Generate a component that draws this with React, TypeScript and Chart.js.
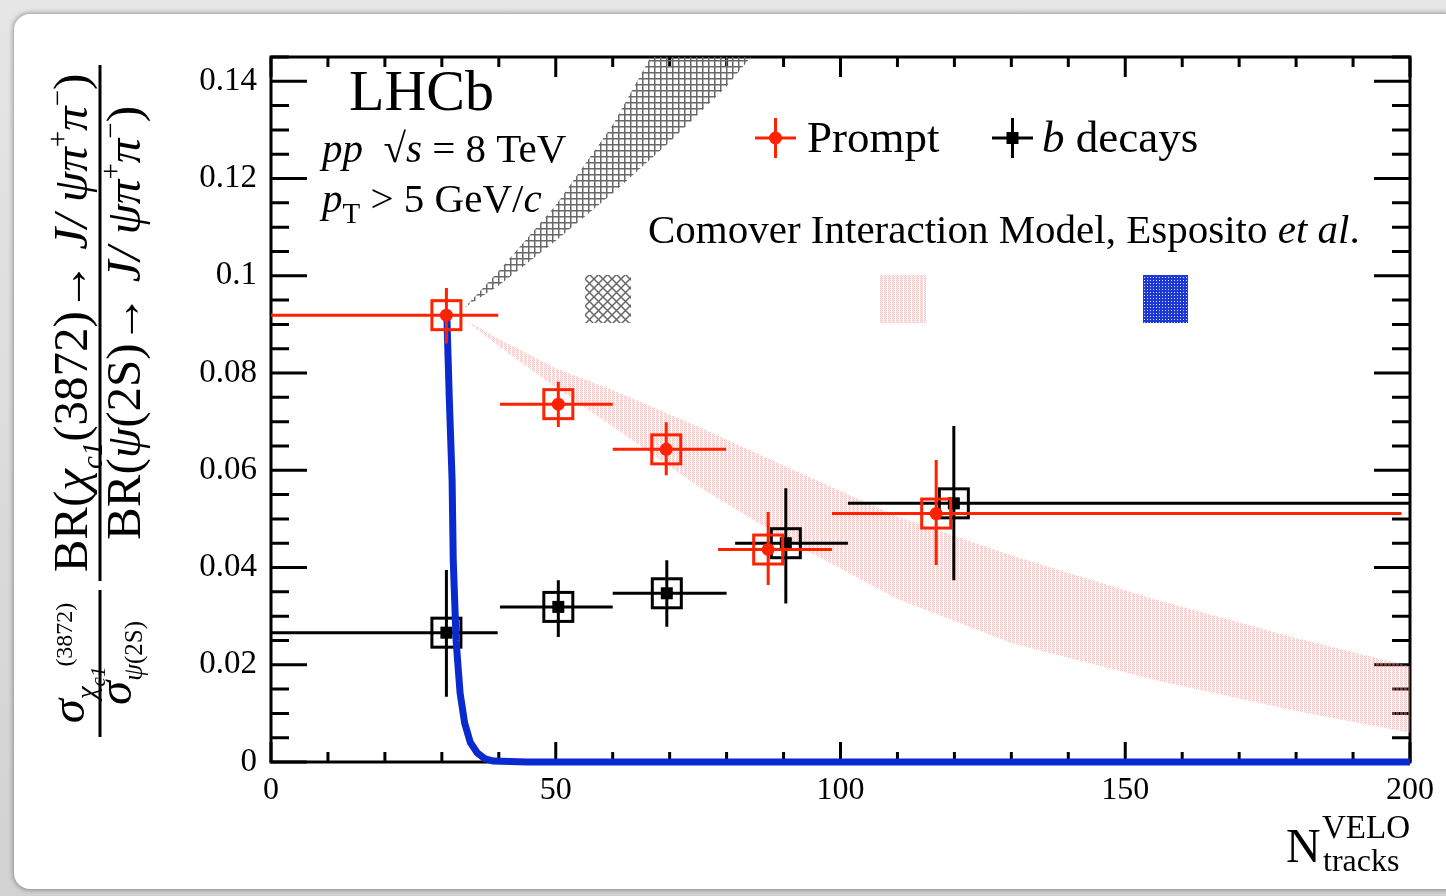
import React, { useEffect, useRef } from 'react';
import { Chart, registerables } from 'chart.js';

Chart.register(...registerables);

const W = 1446;
const H = 896;
const SERIF = '"Liberation Serif", "DejaVu Serif", serif';

// ---- axes ----
const xMin = 0;
const xMax = 200;
const yMin = 0;
const yMax = 0.145;
const xTickValues = [0, 50, 100, 150, 200];
const xTickLabels = ['0', '50', '100', '150', '200'];
const yTickValues = [0, 0.02, 0.04, 0.06, 0.08, 0.1, 0.12, 0.14];
const yTickLabels = ['0', '0.02', '0.04', '0.06', '0.08', '0.1', '0.12', '0.14'];

// ---- Prompt (red) ----
const promptX = [30.8, 50.45, 69.4, 87.3, 116.8];
const promptY = [0.0919, 0.0736, 0.0643, 0.0437, 0.0511];
const promptXLow = [0, 40.2, 60, 78.5, 98.5];
const promptXHigh = [39.9, 60, 79.9, 98.5, 198.5];
const promptYLow = [0.0861, 0.0689, 0.059, 0.0364, 0.0405];
const promptYHigh = [0.0975, 0.0782, 0.0699, 0.0514, 0.0621];

// ---- b decays (black) ----
const bX = [30.8, 50.45, 69.5, 90.4, 119.9];
const bY = [0.0266, 0.0319, 0.0347, 0.045, 0.0532];
const bXLow = [0, 40.2, 60, 81.5, 101.3];
const bXHigh = [39.8, 60, 80, 101.3, 200];
const bYLow = [0.0134, 0.0257, 0.0278, 0.0326, 0.0374];
const bYHigh = [0.0395, 0.0374, 0.0415, 0.0563, 0.0691];

// ---- Comover model bands ----
const pinkX = [34, 40, 50, 60, 75, 90, 110, 130, 155, 180, 200];
const pinkUpper = [0.091, 0.087, 0.081, 0.0765, 0.069, 0.061, 0.0505, 0.0425, 0.0335, 0.0255, 0.0197];
const pinkLower = [0.091, 0.0855, 0.077, 0.069, 0.0567, 0.046, 0.0335, 0.0245, 0.0169, 0.0105, 0.006];

const grayX = [34, 40, 50, 60, 70, 80, 90];
const grayUpper = [0.0935, 0.101, 0.1145, 0.131, 0.152, 0.176, 0.2];
const grayLower = [0.0935, 0.098, 0.1072, 0.117, 0.1275, 0.139, 0.153];

const blueX = [30.9, 31.3, 31.8, 32.0, 32.5, 33.2, 34.0, 35.0, 36.2, 37.5, 39, 45, 60, 100, 150, 200];
const blueY = [0.091, 0.075, 0.058, 0.0415, 0.025, 0.0142, 0.008, 0.004, 0.0019, 0.0007, 0.0002, 0, 0, 0, 0, 0];

const RED = '#ff2200';
const BLUE = '#0a2ad0';

function makePattern(w: number, h: number, draw: (g: CanvasRenderingContext2D) => void): CanvasPattern {
  const c = document.createElement('canvas');
  c.width = w;
  c.height = h;
  const g = c.getContext('2d') as CanvasRenderingContext2D;
  draw(g);
  return g.createPattern(c, 'repeat') as CanvasPattern;
}

type Seg = { t: string; it?: boolean; s?: number; dv?: number };

function segFont(seg: Seg, size: number) {
  return `${seg.it ? 'italic ' : ''}${Math.round(size * (seg.s ?? 1))}px ${SERIF}`;
}

function richWidth(ctx: CanvasRenderingContext2D, segs: Seg[], size: number) {
  let w = 0;
  for (const seg of segs) {
    ctx.font = segFont(seg, size);
    w += ctx.measureText(seg.t).width;
  }
  return w;
}

function drawRich(ctx: CanvasRenderingContext2D, segs: Seg[], u: number, v: number, size: number) {
  let x = u;
  for (const seg of segs) {
    ctx.font = segFont(seg, size);
    ctx.fillText(seg.t, x, v + (seg.dv ?? 0) * size);
    x += ctx.measureText(seg.t).width;
  }
  return x;
}

const frameTicksPlugin = {
  id: 'frameTicks',
  beforeDatasetsDraw(chart: any) {
    const { ctx, chartArea: a, scales } = chart;
    const xs = scales.x;
    const ys = scales.y;
    ctx.save();
    ctx.strokeStyle = '#000';
    ctx.lineWidth = 3;
    ctx.beginPath();
    for (let i = 0; i <= 20; i++) {
      const v = i * 10;
      const px = xs.getPixelForValue(v);
      const len = i % 5 === 0 ? 20 : 10;
      ctx.moveTo(px, a.bottom);
      ctx.lineTo(px, a.bottom - len);
      ctx.moveTo(px, a.top);
      ctx.lineTo(px, a.top + len);
    }
    for (let i = 0; i <= 29; i++) {
      const v = i * 0.005;
      const py = ys.getPixelForValue(v);
      const len = i % 4 === 0 ? 36 : 18;
      ctx.moveTo(a.left, py);
      ctx.lineTo(a.left + len, py);
      ctx.moveTo(a.right, py);
      ctx.lineTo(a.right - len, py);
    }
    ctx.stroke();
    ctx.strokeRect(a.left, a.top, a.right - a.left, a.bottom - a.top);
    ctx.restore();
  },
};

function drawPoints(chart: any, color: string, xs: number[], ys: number[], xl: number[], xh: number[], yl: number[], yh: number[], round: boolean) {
  const { ctx } = chart;
  const sx = chart.scales.x;
  const sy = chart.scales.y;
  ctx.save();
  ctx.strokeStyle = color;
  ctx.fillStyle = color;
  ctx.lineWidth = 3;
  for (let i = 0; i < xs.length; i++) {
    const cx = sx.getPixelForValue(xs[i]);
    const cy = sy.getPixelForValue(ys[i]);
    ctx.beginPath();
    ctx.moveTo(sx.getPixelForValue(xl[i]), cy);
    ctx.lineTo(sx.getPixelForValue(xh[i]), cy);
    ctx.moveTo(cx, sy.getPixelForValue(yl[i]));
    ctx.lineTo(cx, sy.getPixelForValue(yh[i]));
    ctx.stroke();
    ctx.strokeRect(cx - 14.5, cy - 14.5, 29, 29);
    if (round) {
      ctx.beginPath();
      ctx.arc(cx, cy, 6.5, 0, Math.PI * 2);
      ctx.fill();
    } else {
      ctx.fillRect(cx - 6, cy - 6, 12, 12);
    }
  }
  ctx.restore();
}

const pointsPlugin = {
  id: 'errPoints',
  afterDatasetDraw(chart: any, args: any) {
    const label = chart.data.datasets[args.index].label;
    if (label === 'b decays') {
      drawPoints(chart, '#000', bX, bY, bXLow, bXHigh, bYLow, bYHigh, false);
    } else if (label === 'Prompt') {
      drawPoints(chart, RED, promptX, promptY, promptXLow, promptXHigh, promptYLow, promptYHigh, true);
    }
  },
};

function makeTextPlugin(patterns: { gray: CanvasPattern; pink: CanvasPattern; blue: CanvasPattern }) {
  return {
    id: 'texts',
    afterDraw(chart: any) {
      const { ctx } = chart;
      ctx.save();
      ctx.fillStyle = '#000';
      ctx.textBaseline = 'alphabetic';
      ctx.textAlign = 'left';

      // LHCb label
      drawRich(ctx, [{ t: 'LHCb' }], 349, 110, 58);
      drawRich(ctx, [{ t: 'pp', it: true }, { t: '  \u221A' }, { t: 's', it: true }, { t: ' = 8 TeV' }], 322, 162, 41);
      drawRich(ctx, [{ t: 'p', it: true }, { t: 'T', s: 0.7, dv: 0.28 }, { t: ' > 5 GeV/' }, { t: 'c', it: true }], 322, 212, 41);

      // legend
      const ly = 138;
      ctx.strokeStyle = RED;
      ctx.fillStyle = RED;
      ctx.lineWidth = 3;
      ctx.beginPath();
      ctx.moveTo(755, ly); ctx.lineTo(796, ly);
      ctx.moveTo(775.5, 118); ctx.lineTo(775.5, 158);
      ctx.stroke();
      ctx.beginPath();
      ctx.arc(775.5, ly, 6.5, 0, Math.PI * 2);
      ctx.fill();
      ctx.strokeStyle = '#000';
      ctx.fillStyle = '#000';
      ctx.beginPath();
      ctx.moveTo(992, ly); ctx.lineTo(1033, ly);
      ctx.moveTo(1012.5, 118); ctx.lineTo(1012.5, 158);
      ctx.stroke();
      ctx.fillRect(1006.5, ly - 6, 12, 12);
      drawRich(ctx, [{ t: 'Prompt' }], 807, 152, 45);
      drawRich(ctx, [{ t: 'b', it: true }, { t: ' decays' }], 1042, 152, 45);

      drawRich(ctx, [{ t: 'Comover Interaction Model, Esposito ' }, { t: 'et al', it: true }, { t: '.' }], 648, 243, 41);

      // model legend boxes
      ctx.fillStyle = patterns.gray;
      ctx.fillRect(585, 275, 46, 48);
      ctx.fillStyle = patterns.pink;
      ctx.fillRect(880, 275, 46, 48);
      ctx.fillStyle = patterns.blue;
      ctx.fillRect(1143, 275, 45, 48);

      // x-axis title
      ctx.fillStyle = '#000';
      drawRich(ctx, [{ t: 'N' }], 1286, 862, 48);
      drawRich(ctx, [{ t: 'VELO' }], 1322, 838, 33);
      drawRich(ctx, [{ t: 'tracks' }], 1323, 871, 32);

      // y-axis title (rotated)
      ctx.save();
      ctx.rotate(-Math.PI / 2);
      const fs = 49;
      // right fraction
      const numR: Seg[] = [
        { t: 'BR(' },
        { t: '\u03C7', it: true },
        { t: 'c1', it: true, s: 0.6, dv: 0.3 },
        { t: '(3872)\u2192 ' },
        { t: 'J/ \u03C8\u03C0', it: true },
        { t: '+', s: 0.6, dv: -0.4 },
        { t: '\u03C0', it: true },
        { t: '\u2212', s: 0.6, dv: -0.4 },
        { t: ')' },
      ];
      const denR: Seg[] = [
        { t: 'BR(' },
        { t: '\u03C8', it: true },
        { t: '(2S)\u2192 ' },
        { t: 'J/ \u03C8\u03C0', it: true },
        { t: '+', s: 0.6, dv: -0.4 },
        { t: '\u03C0', it: true },
        { t: '\u2212', s: 0.6, dv: -0.4 },
        { t: ')' },
      ];
      const cR = 323; // screen y center
      const wn = richWidth(ctx, numR, fs);
      const wd = richWidth(ctx, denR, fs);
      drawRich(ctx, numR, -cR - wn / 2, 87, fs);
      drawRich(ctx, denR, -cR - wd / 2, 140, fs);
      ctx.fillRect(-581, 98.5, 516, 3);

      const numL: Seg[] = [
        { t: '\u03C3', it: true },
        { t: '\u03C7', it: true, s: 0.6, dv: 0.25 },
        { t: 'c1', it: true, s: 0.42, dv: 0.42 },
        { t: '(3872)', s: 0.48, dv: -0.25 },
      ];
      const denL: Seg[] = [
        { t: '\u03C3', it: true },
        { t: '\u03C8', it: true, s: 0.55, dv: 0.22 },
        { t: '(2S)', s: 0.5, dv: 0.22 },
      ];
      const cL = 663;
      const wnl = richWidth(ctx, numL, fs);
      const wdl = richWidth(ctx, denL, fs);
      drawRich(ctx, numL, -cL - wnl / 2, 84, fs);
      drawRich(ctx, denL, -cL - wdl / 2, 131, fs);
      ctx.fillRect(-737, 98.5, 147, 3);
      ctx.restore();

      ctx.restore();
    },
  };
}

export default function App() {
  const ref = useRef<HTMLCanvasElement | null>(null);

  useEffect(() => {
    document.body.style.margin = '0';
    const canvas = ref.current;
    if (!canvas) return;

    const pink = makePattern(4, 2, (g) => {
      for (let x = 0; x < 4; x++) {
        for (let y = 0; y < 2; y++) {
          if (x === 3) continue;
          g.fillStyle = (x + y) % 2 === 0 ? 'rgba(240,135,135,0.45)' : 'rgba(247,190,190,0.3)';
          g.fillRect(x, y, 1, 1);
        }
      }
    });
    const gray = makePattern(6, 6, (g) => {
      g.fillStyle = '#686868';
      g.fillRect(0, 0, 6, 1.5);
      g.fillRect(0, 0, 1.5, 6);
    });
    const grayDiag = makePattern(9, 9, (g) => {
      g.strokeStyle = '#666';
      g.lineWidth = 1.5;
      g.beginPath();
      g.moveTo(-1, -1); g.lineTo(10, 10);
      g.moveTo(10, -1); g.lineTo(-1, 10);
      g.stroke();
    });
    const blue = makePattern(3, 3, (g) => {
      g.fillStyle = '#1c38d6';
      g.fillRect(0, 0, 3, 3);
      g.fillStyle = 'rgba(255,255,255,0.85)';
      g.fillRect(1, 1, 1, 1);
    });

    const pts = (xs: number[], ys: number[]) => xs.map((x, i) => ({ x, y: ys[i] }));

    const chart = new Chart(canvas, {
      type: 'line',
      data: {
        datasets: [
          {
            label: 'pinkUpper',
            data: pts(pinkX, pinkUpper),
            borderWidth: 0,
            borderColor: 'rgba(0,0,0,0)',
            pointRadius: 0,
            fill: '+1',
            backgroundColor: pink,
            order: 10,
          },
          {
            label: 'pinkLower',
            data: pts(pinkX, pinkLower),
            borderWidth: 0,
            borderColor: 'rgba(0,0,0,0)',
            pointRadius: 0,
            fill: false,
            order: 10,
          },
          {
            label: 'grayUpper',
            data: pts(grayX, grayUpper),
            borderWidth: 0,
            borderColor: 'rgba(0,0,0,0)',
            pointRadius: 0,
            fill: '+1',
            backgroundColor: gray,
            order: 9,
          },
          {
            label: 'grayLower',
            data: pts(grayX, grayLower),
            borderWidth: 0,
            borderColor: 'rgba(0,0,0,0)',
            pointRadius: 0,
            fill: false,
            order: 9,
          },
          {
            label: 'b decays',
            data: pts(bX, bY),
            showLine: false,
            pointRadius: 0,
            borderWidth: 0,
            order: 5,
          },
          {
            label: 'blue',
            data: pts(blueX, blueY),
            borderColor: BLUE,
            borderWidth: 7,
            pointRadius: 0,
            fill: false,
            tension: 0,
            clip: 8,
            order: 4,
          },
          {
            label: 'Prompt',
            data: pts(promptX, promptY),
            showLine: false,
            pointRadius: 0,
            borderWidth: 0,
            order: 1,
          },
        ],
      },
      options: {
        responsive: false,
        animation: false,
        devicePixelRatio: 1,
        layout: { padding: { top: 57, right: 36, left: 0, bottom: 0 } },
        plugins: { legend: { display: false }, tooltip: { enabled: false } },
        events: [],
        scales: {
          x: {
            type: 'linear',
            min: xMin,
            max: xMax,
            grid: { display: false, drawTicks: false },
            border: { display: false },
            afterBuildTicks: (s: any) => {
              s.ticks = xTickValues.map((v) => ({ value: v }));
            },
            afterFit: (s: any) => {
              s.height = H - 762;
            },
            ticks: {
              autoSkip: false,
              maxRotation: 0,
              color: '#000',
              padding: 9,
              font: { family: SERIF, size: 32 },
              callback: (_v: any, i: number) => xTickLabels[i],
            },
          },
          y: {
            type: 'linear',
            min: yMin,
            max: yMax,
            grid: { display: false, drawTicks: false },
            border: { display: false },
            afterBuildTicks: (s: any) => {
              s.ticks = yTickValues.map((v) => ({ value: v }));
            },
            afterFit: (s: any) => {
              s.width = 271;
            },
            ticks: {
              autoSkip: false,
              color: '#000',
              padding: 14,
              font: { family: SERIF, size: 33 },
              callback: (_v: any, i: number) => yTickLabels[i],
            },
          },
        },
      } as any,
      plugins: [frameTicksPlugin, pointsPlugin, makeTextPlugin({ gray: grayDiag, pink, blue })],
    });

    return () => {
      chart.destroy();
    };
  }, []);

  return (
    <div style={{ position: 'fixed', left: 0, top: 0, width: W, height: H, overflow: 'hidden', background: 'linear-gradient(#e6e6e6, #d2d2d2)' }}>
      <div
        style={{
          position: 'absolute',
          left: 14,
          top: 14,
          width: W,
          height: 875,
          background: '#fff',
          borderRadius: 16,
          boxShadow: '0 0 5px 1px rgba(0,0,0,0.35)',
        }}
      />
      <canvas ref={ref} width={W} height={H} style={{ position: 'absolute', left: 0, top: 0, width: W, height: H }} />
    </div>
  );
}
